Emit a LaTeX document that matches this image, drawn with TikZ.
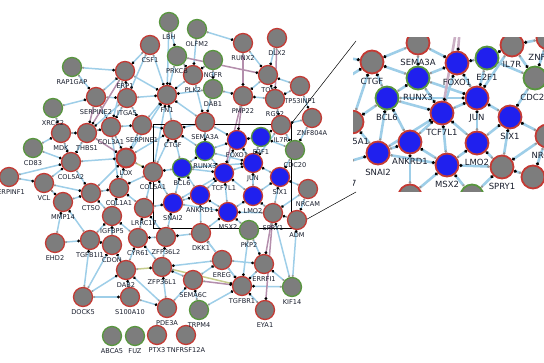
\documentclass[tikz,border=0pt]{standalone}
\usepackage{fontspec}
\newfontfamily\genefont{DejaVu Sans}
\usetikzlibrary{arrows.meta, backgrounds}
\usepackage{xcolor}
\definecolor{nodegray}{RGB}{125,125,125}
\definecolor{upred}{RGB}{196,58,52}
\definecolor{downgreen}{RGB}{88,150,62}
\definecolor{tfblue}{RGB}{32,32,238}
\definecolor{edgeblue}{RGB}{158,206,232}
\definecolor{edgepurple}{RGB}{180,142,172}
\definecolor{edgeolive}{RGB}{198,205,140}
\definecolor{dotgray}{RGB}{150,150,150}
\definecolor{genetext}{RGB}{25,30,45}

\begin{document}
\begin{tikzpicture}[
    x=1pt, y=-1pt,
    label distance=2pt,
    every label/.style={font=\genefont\fontsize{6.6}{7}\selectfont, text=genetext, inner sep=0pt},
    zoomlabel/.style={font=\genefont\fontsize{8.5}{9}\selectfont, label distance=4pt},
    gene/.style={circle, fill=nodegray, line width=1.3pt, minimum size=19pt, inner sep=0pt},
    grayred/.style={gene, draw=upred},
    graygreen/.style={gene, draw=downgreen},
    bluered/.style={gene, draw=upred, fill=tfblue},
    bluegreen/.style={gene, draw=downgreen, fill=tfblue},
    zoomgene/.style={line width=1.8pt, minimum size=23pt},
    genelink/.style={line width=1.5pt, {Circle[length=2pt, color=dotgray]}-{Circle[length=2.6pt, color=black]}},
    bluelink/.style={genelink, draw=edgeblue},
    purplelink/.style={genelink, draw=edgepurple},
    olivelink/.style={genelink, draw=edgeolive},
    zoomlink/.style={line width=2.6pt, {Circle[length=2.4pt, color=dotgray]}-{Circle[length=3pt, color=black]}},
    boxline/.style={draw=black, line width=0.6pt},
]
\useasboundingbox (0,0) rectangle (544,363);

% === GENES: GRAY, RED BORDER ===
\foreach \name/\x/\y in {CSF1/150/45, RUNX2/243/43, DLX2/277/38, ERP1/125/71, PLK2/193/75,
    TOX/268/75, TP53INP1/300/86, SERPINE2/96/97, ITGA5/127/98, FN1/167/95, PMP22/243/96,
    RGS2/275/99, ZNF804A/312/118, SEMA3A/205/122, IL7R/281/125, CTGF/173/130,
    SERPINE1/142/125, COL3A1/111/127, MDK/61/133, THBS1/87/133, COL5A2/71/162,
    COL5A1/153/172, SERPINF1/9/177, VCL/44/183, COL1A1/119/188, CTSO/91/193, MMP14/63/202,
    LRRC17/144/208, IGFBP5/112/216, NRCAM/308/189, SPRY1/273/213, ADM/297/220, DKK1/201/233,
    EHD2/55/243, TGFB1I1/90/240, CDON/112/245, CYR61/138/238, ZFP36L2/166/237, DAB2/126/270,
    ZFP36L1/162/267, EREG/222/260, ERRFI1/264/264, SEMA6C/193/280, TGFBR1/242/286,
    DOCK5/83/297, S100A10/130/297, PDE3A/167/308, EYA1/265/310, PTX3/157/335, TNFRSF12A/186/335}
    \node[grayred, label=below:\name] (\name) at (\x,\y) {};
\node[grayred, line width=1.9pt, label=below:LOX] (LOX) at (126,158) {};

% === GENES: GRAY, GREEN BORDER ===
\foreach \name/\x/\y in {LBH/169/22, OLFM2/197/29, PRKCB/177/56, NGFR/213/60, RAP1GAP/72/67,
    DAB1/213/89, XRCC2/53/108, CD83/33/148, CDC20/295/150, PKP2/249/230, KIF14/292/287,
    TRPM4/199/310, ABCA5/112/336, FUZ/135/336}
    \node[graygreen, label=below:\name] (\name) at (\x,\y) {};

% === GENES: BLUE ===
\foreach \name/\x/\y in {FOXO1/237/140, JUN/253/163, TCF7L1/224/173, SIX1/280/177,
    ANKRD1/200/195, LMO2/253/196, SNAI2/173/203, MSX2/228/212}
    \node[bluered, label=below:\name] (\name) at (\x,\y) {};
\foreach \name/\x/\y in {E2F1/261/137, RUNX3/205/151, BCL6/182/168}
    \node[bluegreen, label=below:\name] (\name) at (\x,\y) {};

% === INTERACTIONS ===
\begin{scope}[on background layer]
\foreach \a/\b in {RAP1GAP/ERP1, RAP1GAP/SERPINE2, LBH/FN1, LBH/PRKCB, OLFM2/PLK2, OLFM2/RUNX2,
    CSF1/ERP1, CSF1/FN1, CSF1/ITGA5, PRKCB/FN1, PRKCB/PLK2, NGFR/PLK2, NGFR/DAB1, DAB1/FN1,
    DAB1/SEMA3A, DAB1/PMP22, PLK2/FN1, PLK2/SEMA3A, RUNX2/TOX, DLX2/TOX, TP53INP1/TOX,
    TP53INP1/RGS2, TP53INP1/ZNF804A, RGS2/TOX, RGS2/PMP22, TOX/PMP22, RGS2/IL7R,
    XRCC2/SERPINE2, XRCC2/MDK, SERPINE2/ERP1, SERPINE2/ITGA5, SERPINE2/COL3A1, ITGA5/ERP1,
    ERP1/FN1, ERP1/COL3A1, ITGA5/FN1, ITGA5/SERPINE1, ITGA5/COL3A1, ITGA5/THBS1, SERPINE1/FN1,
    CTGF/FN1, SEMA3A/FN1, COL5A1/FN1, LOX/FN1, MDK/THBS1, CD83/MDK, MDK/COL5A2, THBS1/COL3A1,
    THBS1/COL5A2, COL3A1/SERPINE1, COL3A1/LOX, COL3A1/COL1A1, SERPINE1/CTGF, SERPINE1/LOX,
    LOX/CTGF, BCL6/CTGF, COL5A1/CTGF, RUNX3/CTGF, SEMA3A/CTGF, CD83/COL5A2, SERPINF1/COL5A2,
    SERPINF1/VCL, VCL/MMP14, VCL/CTSO, VCL/COL5A2, COL5A2/CTSO, COL5A2/LOX, COL1A1/LOX,
    CTSO/LOX, COL5A1/COL1A1, SNAI2/COL5A1, LRRC17/COL5A1, BCL6/COL5A1, CTSO/COL1A1,
    IGFBP5/COL1A1, LRRC17/COL1A1, MMP14/CTSO, EHD2/MMP14, TGFB1I1/MMP14, IGFBP5/CTSO,
    CDON/IGFBP5, CYR61/IGFBP5, TGFB1I1/IGFBP5, CYR61/LRRC17, ZFP36L2/LRRC17, LRRC17/SNAI2,
    EHD2/TGFB1I1, DOCK5/TGFB1I1, TGFB1I1/CDON, DAB2/CDON, DOCK5/CDON, DAB2/CYR61,
    ZFP36L2/CYR61, ZFP36L1/CYR61, ZFP36L1/ZFP36L2, DKK1/ZFP36L2, ZFP36L2/SNAI2, DOCK5/DAB2,
    S100A10/DAB2, PDE3A/DAB2, PDE3A/ZFP36L1, SEMA6C/ZFP36L1, EREG/ZFP36L1, S100A10/PDE3A,
    DOCK5/S100A10, PDE3A/SEMA6C, TRPM4/SEMA6C, TRPM4/TGFBR1, SEMA6C/EREG, EREG/TGFBR1,
    EREG/DKK1, EREG/ERRFI1, DKK1/TGFBR1, DKK1/MSX2, DKK1/ANKRD1, PKP2/TGFBR1, PKP2/ERRFI1,
    PKP2/MSX2, ERRFI1/TGFBR1, KIF14/ERRFI1, KIF14/TGFBR1, EYA1/TGFBR1, KIF14/SPRY1, KIF14/ADM,
    SEMA3A/FOXO1, E2F1/FOXO1, JUN/FOXO1, TCF7L1/FOXO1, RUNX3/FOXO1, SEMA3A/RUNX3, E2F1/JUN,
    CDC20/E2F1, IL7R/E2F1, BCL6/RUNX3, RUNX3/TCF7L1, RUNX3/JUN, TCF7L1/JUN, SIX1/JUN,
    LMO2/JUN, BCL6/JUN, BCL6/TCF7L1, SNAI2/BCL6, ANKRD1/BCL6, ANKRD1/TCF7L1, LMO2/TCF7L1,
    MSX2/TCF7L1, SNAI2/TCF7L1, LMO2/SIX1, CDC20/SIX1, NRCAM/SIX1, SPRY1/SIX1, SNAI2/ANKRD1,
    MSX2/ANKRD1, MSX2/LMO2, SPRY1/LMO2, SNAI2/MSX2, SPRY1/MSX2, ADM/SPRY1, NRCAM/SPRY1,
    NRCAM/ADM, ZNF804A/CDC20, IL7R/CDC20, ZNF804A/IL7R, IL7R/JUN}
    \draw[bluelink] (\a) -- (\b);
\foreach \a/\b in {RUNX2/PMP22, PMP22/FOXO1, PMP22/TCF7L1, PRKCB/TOX, DLX2/RGS2,
    SERPINE2/THBS1, ERP1/THBS1, THBS1/LOX, SPRY1/ERRFI1, SPRY1/EYA1, SEMA6C/TGFBR1}
    \draw[purplelink] (\a) -- (\b);
\foreach \a/\b in {LOX/COL5A1, ZFP36L1/TGFBR1, DAB2/ZFP36L1}
    \draw[olivelink] (\a) -- (\b);

% zoom frame and its leaders
\coordinate (boxNW) at (153,124);
\coordinate (boxSE) at (291,228);
\coordinate (insetTL) at (356,41);
\coordinate (insetBL) at (356,192);
\draw[boxline] (boxNW) rectangle (boxSE);
\draw[boxline, line width=0.5pt] (boxNW -| boxSE) -- (insetTL);
\draw[boxline, line width=0.5pt] (boxSE) -- (insetBL);
\end{scope}

% === INSET (ZOOMED CORE) ===
\coordinate (insetNW) at (353,38);
\coordinate (insetSE) at (544,192);
\begin{scope}
    \clip (insetNW) rectangle (insetSE);
    \foreach \name/\x/\y in {SEMA3A/418/43, CTGF/372/62, IL7R/512/45, ZNF804A/548/38,
        COL5A1/352/122, NRCAM/547/136, SPRY1/502/167, ADM/533/177, DKK1/410/196,
        LRRC17/340/164, SERPINE1/300/50, LOX/316/97, COL1A1/307/134, PMP22/463/-10}
        \node[grayred, zoomgene, label={[zoomlabel]below:\name}] (z\name) at (\x,\y) {};
    \foreach \name/\x/\y in {CDC20/535/78, PKP2/472/196}
        \node[graygreen, zoomgene, label={[zoomlabel]below:\name}] (z\name) at (\x,\y) {};
    \foreach \name/\x/\y in {FOXO1/457/63, JUN/477/98, TCF7L1/442/113, SIX1/510/117,
        ANKRD1/410/142, LMO2/477/143, SNAI2/378/153, MSX2/447/165}
        \node[bluered, zoomgene, label={[zoomlabel]below:\name}] (z\name) at (\x,\y) {};
    \foreach \name/\x/\y in {E2F1/487/58, RUNX3/418/78, BCL6/387/98}
        \node[bluegreen, zoomgene, label={[zoomlabel]below:\name}] (z\name) at (\x,\y) {};
\end{scope}

\begin{scope}[on background layer]
    \clip (insetNW) rectangle (insetSE);
    \foreach \a/\b in {SEMA3A/CTGF, BCL6/CTGF, RUNX3/CTGF, COL5A1/CTGF, SERPINE1/CTGF,
        LOX/CTGF, COL1A1/COL5A1, BCL6/COL5A1, SNAI2/COL5A1, LRRC17/COL5A1, LRRC17/SNAI2,
        SEMA3A/FOXO1, E2F1/FOXO1, JUN/FOXO1, TCF7L1/FOXO1, RUNX3/FOXO1, SEMA3A/RUNX3,
        E2F1/JUN, CDC20/E2F1, IL7R/E2F1, IL7R/CDC20, IL7R/JUN, ZNF804A/IL7R, ZNF804A/CDC20,
        BCL6/RUNX3, RUNX3/TCF7L1, RUNX3/JUN, TCF7L1/JUN, SIX1/JUN, LMO2/JUN, BCL6/JUN,
        BCL6/TCF7L1, SNAI2/BCL6, ANKRD1/BCL6, ANKRD1/TCF7L1, LMO2/TCF7L1, MSX2/TCF7L1,
        SNAI2/TCF7L1, LMO2/SIX1, CDC20/SIX1, NRCAM/SIX1, SPRY1/SIX1, SNAI2/ANKRD1,
        MSX2/ANKRD1, MSX2/LMO2, SPRY1/LMO2, SNAI2/MSX2, SPRY1/MSX2, ADM/SPRY1, NRCAM/SPRY1,
        NRCAM/ADM, DKK1/MSX2, DKK1/ANKRD1, PKP2/MSX2, PKP2/SPRY1}
        \draw[zoomlink, draw=edgeblue] (z\a) -- (z\b);
    \foreach \a/\b in {PMP22/FOXO1, PMP22/TCF7L1}
        \draw[zoomlink, draw=edgepurple!70] (z\a) -- (z\b);
    \draw[zoomlink, draw=edgeolive] (zLOX) -- (zCOL5A1);
\end{scope}

\end{tikzpicture}
\end{document}
